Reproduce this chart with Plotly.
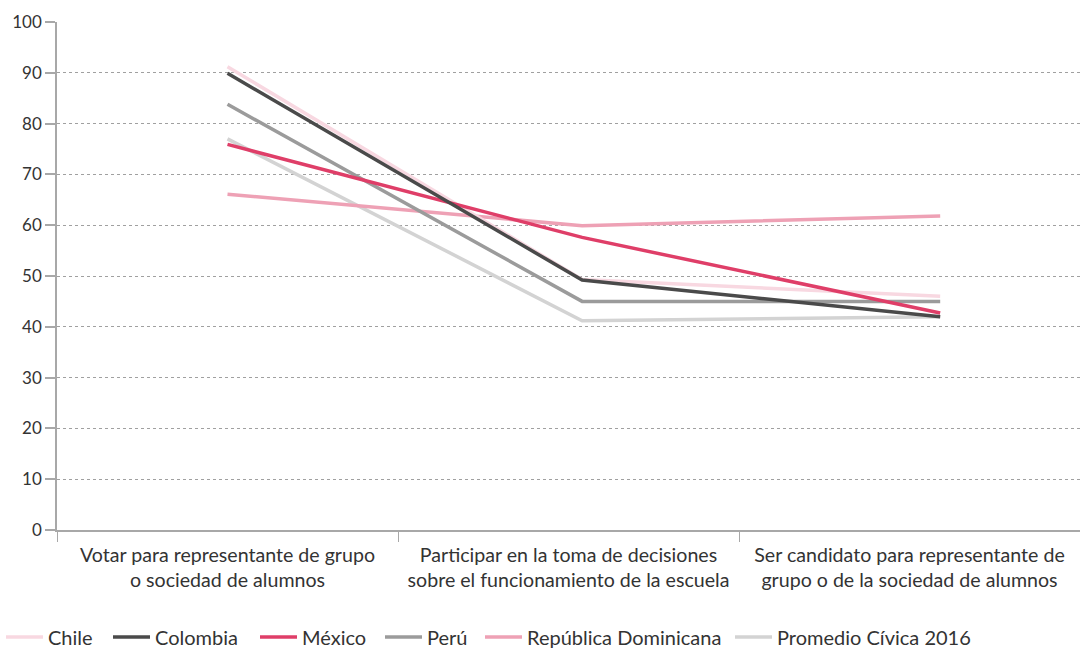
import plotly.graph_objects as go

categories = [
    "Votar para representante de grupo<br>o sociedad de alumnos",
    "Participar en la toma de decisiones<br>sobre el funcionamiento de la escuela",
    "Ser candidato para representante de<br>grupo o de la sociedad de alumnos",
]
cat_pos = [0.5, 1.5, 2.5]
point_pos = [0.5, 1.54, 2.59]

series_names = ["Chile", "Colombia", "México", "Perú", "República Dominicana", "Promedio Cívica 2016"]
chile = [91.2, 49.3, 46.0]
colombia = [89.9, 49.2, 42.0]
mexico = [75.9, 57.6, 42.7]
peru = [83.8, 45.0, 45.0]
rep_dom = [66.1, 59.9, 61.8]
promedio = [77.0, 41.2, 42.0]
colors = ["#f8d8e1", "#4a4a4a", "#df3e68", "#9b9b9b", "#eea1b5", "#d3d3d3"]

y_ticks = list(range(0, 101, 10))

# legend entry left edges (pixels in the 1080-wide figure)
legend_left_px = [1, 108, 255, 380, 480, 730]

font_family = "Lato, 'Open Sans', sans-serif"

all_vals = [chile, colombia, mexico, peru, rep_dom, promedio]
draw_order = [5, 4, 3, 0, 2, 1]

fig = go.Figure()
for i in draw_order:
    fig.add_trace(go.Scatter(x=point_pos, y=all_vals[i], name=series_names[i], mode="lines",
                             legend="legend" if i == 0 else f"legend{i + 1}",
                             line=dict(color=colors[i], width=3.5)))

legend_layout = {}
for i, px in enumerate(legend_left_px):
    key = "legend" if i == 0 else f"legend{i + 1}"
    legend_layout[key] = dict(orientation="h", xref="container", yref="container",
                              x=px / 1080, xanchor="left", y=0.0185, yanchor="middle",
                              font=dict(size=20, color="#333333"), itemwidth=37,
                              bgcolor="rgba(0,0,0,0)")

fig.update_layout(
    width=1080, height=649,
    margin=dict(l=57, r=0, t=22, b=119, autoexpand=False),
    paper_bgcolor="white", plot_bgcolor="white",
    font=dict(family=font_family, size=17, color="#333333"),
    showlegend=True,
    xaxis=dict(range=[0, 3], tickvals=cat_pos, ticktext=categories, ticks="",
               tickfont=dict(size=19.6),
               showgrid=False, zeroline=False, showline=True, linecolor="#a8a8a8", linewidth=2,
               minor=dict(tickmode="linear", tick0=0, dtick=1, ticks="outside", ticklen=10,
                          tickcolor="#a8a8a8", tickwidth=1, showgrid=False),
               ticklabelstandoff=6, fixedrange=True, automargin=False),
    yaxis=dict(range=[0, 100], tickvals=y_ticks, ticks="outside", ticklen=10,
               tickcolor="#a8a8a8", tickwidth=1.5,
               showgrid=True, gridcolor="#a0a0a0", griddash="dot", gridwidth=1,
               zeroline=False, showline=True, linecolor="#a8a8a8", linewidth=1.5,
               ticklabelstandoff=0, fixedrange=True, automargin=False),
    **legend_layout,
)

fig.write_html("out.html", config={"displayModeBar": False},
               post_script="document.body.style.margin='0';document.body.style.overflow='hidden';")
